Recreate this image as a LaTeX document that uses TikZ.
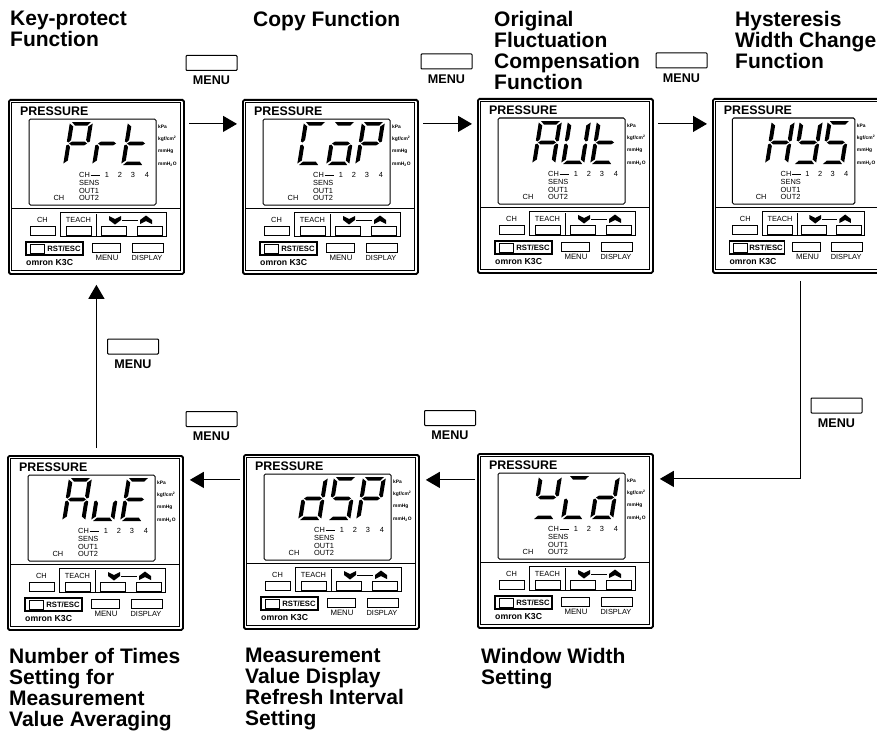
\documentclass[tikz,border=0pt]{standalone}
\usepackage{fontspec}
\setmainfont{Liberation Sans}
\usetikzlibrary{arrows.meta}
\newcommand{\sega}{(2,0) -- (21,0) -- (18,3.5) -- (5.5,3.5) -- cycle}
\newcommand{\segb}{(23,1.5) -- (23,19.5) -- (21,20.5) -- (19,18) -- (19,4.5) -- cycle}
\newcommand{\segc}{(23,41.5) -- (23,23.5) -- (21,22.5) -- (19,25) -- (19,38.5) -- cycle}
\newcommand{\segd}{(2,43) -- (21,43) -- (18,39.5) -- (5.5,39.5) -- cycle}
\newcommand{\sege}{(0,41.5) -- (0,23.5) -- (2,22.5) -- (4,25) -- (4,38.5) -- cycle}
\newcommand{\segf}{(0,1.5) -- (0,19.5) -- (2,20.5) -- (4,18) -- (4,4.5) -- cycle}
\newcommand{\segg}{(2.5,21.5) -- (5,19.7) -- (18,19.7) -- (20.5,21.5) -- (18,23.3) -- (5,23.3) -- cycle}
\begin{document}
\begin{tikzpicture}[
  x=1pt, y=-1pt,
  font=\rmfamily,
  title/.style={anchor=north west, inner sep=0pt, align=left, font=\fontsize{21}{21}\selectfont\bfseries},
  flow/.style={line width=1.1pt, -{Triangle[length=14pt,width=16pt]}, shorten <=4.5pt, shorten >=5pt},
  menukey/.style={draw, line width=1pt, rounded corners=0.8pt, minimum width=51pt, minimum height=15pt, inner sep=0pt},
  menutext/.style={inner sep=0pt, font=\fontsize{12.6}{13}\selectfont\bfseries},
  panelbox/.style={draw, line width=1.8pt, rounded corners=1.5pt, anchor=north west, minimum width=175pt, minimum height=174pt, inner sep=0pt},
  keybox/.style={draw, line width=0.8pt, minimum height=9pt, inner sep=0pt},
  tiny/.style={inner sep=0pt, font=\fontsize{7.4}{8}\selectfont},
  unit/.style={anchor=west, inner sep=0pt, font=\fontsize{4.9}{6}\selectfont\bfseries},
  pics/digit/.style={code={
    \begin{scope}[xslant=.16]
      \foreach \s in {#1} {
        \fill \csname seg\s\endcsname;
      }
    \end{scope}
  }},
  pics/panel/.style n args={3}{code={
    \node[panelbox] (-body) at (0,0) {};
    \draw[line width=0.7pt] (3,3) rectangle (172,171);
    \node[anchor=west, inner sep=0pt, font=\fontsize{12.4}{12}\selectfont\bfseries] (-brand) at (12,12) {PRESSURE};
    \draw[line width=1pt, rounded corners=1.5pt] (21,20) rectangle (148,106);
    \pic at (62,23) {digit={#1}};
    \pic at (91,23) {digit={#2}};
    \pic at (120,23) {digit={#3}};
    \node[unit] (-kpa) at (150,28) {kPa};
    \node[unit] (-kgf) at (150,40) {kgf/cm\textsuperscript{2}};
    \node[unit] (-hg) at (150,52) {mmHg};
    \node[unit] (-water) at (150,65) {mmH\textsubscript{2}O};
    \node[tiny, anchor=west] (-chan) at (71,76) {CH};
    \draw[line width=0.7pt] (82.5,76) -- (92,76);
    \foreach \i/\cx in {1/99,2/112,3/125,4/139} {
      \node[tiny] (-num\i) at (\cx,76) {\i};
    }
    \node[tiny, anchor=west] (-sens) at (71,84) {SENS};
    \node[tiny, anchor=west] (-out1) at (71,91.5) {OUT1};
    \node[tiny, anchor=west] (-out2) at (71,99) {OUT2};
    \node[tiny] (-ch2) at (51,99) {CH};
    \draw[line width=0.9pt] (3,109) -- (172,109);
    \node[tiny] (-chlabel) at (34.5,121) {CH};
    \node[keybox, minimum width=25pt] (-chkey) at (34.5,131.5) {};
    \draw[line width=0.8pt] (52,113) rectangle (158,137.5);
    \draw[line width=0.8pt] (88,115) -- (88,136.5);
    \node[tiny] (-teachlabel) at (70.5,121) {TEACH};
    \node[keybox, minimum width=25pt] (-teachkey) at (70.5,131.5) {};
    \node[keybox, minimum width=25pt] (-downkey) at (105.5,131.5) {};
    \node[keybox, minimum width=25pt] (-upkey) at (141.5,131.5) {};
    \fill (101,117) -- (107,120) -- (113,117) -- (113,121) -- (107,125.5) -- (101,121) -- cycle;
    \fill (132,125) -- (138,122) -- (144,125) -- (144,121) -- (138,116.5) -- (132,121) -- cycle;
    \draw[line width=0.7pt] (114,121) -- (130,121);
    \draw[line width=1.3pt] (18,143) rectangle (75,156);
    \node[keybox, minimum width=14pt] (-rstkey) at (29,150) {};
    \node[inner sep=0pt, font=\fontsize{7.7}{8}\selectfont\bfseries] (-rst) at (56,149.5) {RST/ESC};
    \node[keybox, minimum width=28pt] (-menukey) at (98,148.5) {};
    \node[inner sep=0pt, font=\fontsize{7.8}{8}\selectfont] (-menu) at (99,159) {MENU};
    \node[keybox, minimum width=31pt] (-dispkey) at (139.5,148.5) {};
    \node[inner sep=0pt, font=\fontsize{7.4}{8}\selectfont] (-disp) at (139,159) {DISPLAY};
    \node[anchor=west, inner sep=0pt, font=\fontsize{8.7}{9}\selectfont\bfseries] (-omron) at (18,164) {omron K3C};
  }},
]
  \useasboundingbox (0,0) rectangle (877,733);
  \clip (0,0) rectangle (877,733);

  \node[title] (t1) at (10,11) {Key-protect\\Function};
  \node[title] (t2) at (253,11) {Copy Function};
  \node[title] (t3) at (494,11) {Original\\Fluctuation\\Compensation\\Function};
  \node[title] (t4) at (735,11) {Hysteresis\\Width Change\\Function};
  \node[title] (t5) at (481,648) {Window Width\\Setting};
  \node[title] (t6) at (245,648) {Measurement\\Value Display\\Refresh Interval\\Setting};
  \node[title] (t7) at (9,648) {Number of Times\\Setting for\\Measurement\\Value Averaging};

  \pic (prt) at (8,99) {panel={a,b,e,f,g}{e,g}{d,e,f,g}};
  \pic (cop) at (242,99) {panel={a,d,e,f}{a,c,d,e,g}{a,b,e,f,g}};
  \pic (aut) at (477,98) {panel={a,b,c,e,f,g}{b,c,d,e,f}{d,e,f,g}};
  \pic[xscale=.965] (hys) at (712,98) {panel={b,c,e,f,g}{b,c,d,f,g}{a,c,d,f,g}};
  \pic (yld) at (477,453) {panel={b,d,f,g}{a,d,e}{b,c,d,e,g}};
  \pic (dsp) at (243,454) {panel={b,c,d,e,g}{a,c,d,f,g}{a,b,e,f,g}};
  \pic (ave) at (7,455) {panel={a,b,c,e,f,g}{c,d,e}{a,d,e,f,g}};

  \foreach \i/\bx/\by in {1/211.5/63,2/446.5/61.5,3/681.5/60.5,4/836.5/405.5,5/450/418,6/211.5/419,7/133/346.5} {
    \node[menukey] (menu\i) at (\bx,\by) {};
    \node[menutext] (menulabel\i) at ([yshift=-17.5pt]menu\i.center) {MENU};
  }

  \draw[flow] ([yshift=63pt]prt-body.east) -- ([yshift=63pt]cop-body.west);
  \draw[flow] ([yshift=63pt]cop-body.east) -- ([yshift=62pt]aut-body.west);
  \draw[flow] ([yshift=62pt]aut-body.east) -- ([yshift=62pt]hys-body.west);
  \draw[flow, shorten <=7pt, shorten >=6pt] (hys-body.south) |- ([yshift=62pt]yld-body.east);
  \draw[flow, shorten <=2pt, shorten >=6pt] ([yshift=61pt]yld-body.west) -- ([yshift=62pt]dsp-body.east);
  \draw[flow, shorten <=3pt, shorten >=6pt] ([yshift=62pt]dsp-body.west) -- ([yshift=63pt]ave-body.east);
  \draw[flow, shorten <=7pt, shorten >=10pt] ([xshift=1pt]ave-body.north) -- ([xshift=1pt]ave-body.north |- prt-body.south);
\end{tikzpicture}
\end{document}
